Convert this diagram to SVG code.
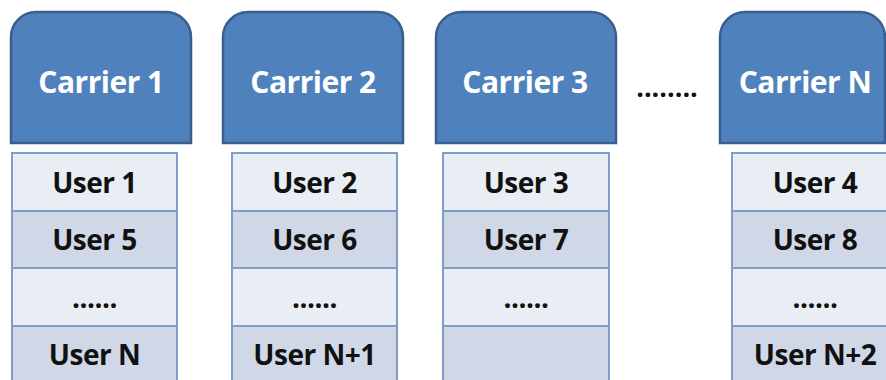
<svg xmlns="http://www.w3.org/2000/svg" width="886" height="380" viewBox="0 0 886 380">
  <style>
    .carrier { fill: #4f81bd; stroke: #3a5f8f; stroke-width: 2.5; }
    .carrier-label { font-family: "Open Sans", "Liberation Sans", Arial, sans-serif; font-weight: bold; font-size: 30px; fill: #ffffff; text-anchor: middle; letter-spacing: -0.5px; }
    .row-light { fill: #e9edf4; stroke: #7f9dcb; stroke-width: 2; }
    .row-dark { fill: #d0d8e8; stroke: #7f9dcb; stroke-width: 2; }
    .user-label { font-family: "Open Sans", "Liberation Sans", Arial, sans-serif; font-weight: bold; font-size: 28px; fill: #111111; text-anchor: middle; letter-spacing: -0.5px; }
    .ellipsis { font-family: "Open Sans", "Liberation Sans", Arial, sans-serif; font-weight: bold; font-size: 27px; fill: #111111; text-anchor: middle; }
  </style>
  <defs>
    <!-- carrier header: rounded top, square bottom, 180 x 131 -->
    <path id="carrier-shape" d="M0,131 V25 A25,25 0 0 1 25,0 H155 A25,25 0 0 1 180,25 V131 Z"/>
  </defs>

  <rect width="886" height="380" fill="#ffffff"/>

  <!-- Carrier headers -->
  <g id="carrier-1" transform="translate(11,12)">
    <use href="#carrier-shape" class="carrier"/>
    <text class="carrier-label" x="90" y="81">Carrier 1</text>
  </g>
  <g id="carrier-2" transform="translate(223,12)">
    <use href="#carrier-shape" class="carrier"/>
    <text class="carrier-label" x="90" y="81">Carrier 2</text>
  </g>
  <g id="carrier-3" transform="translate(436,12)">
    <use href="#carrier-shape" class="carrier"/>
    <text class="carrier-label" x="89" y="81">Carrier 3</text>
  </g>
  <g id="carrier-gap">
    <text class="ellipsis" x="667" y="97">........</text>
  </g>
  <g id="carrier-n" transform="translate(720,12)">
    <path class="carrier" d="M0,131 V25 A25,25 0 0 1 25,0 H140 A25,25 0 0 1 165,25 V131 Z"/>
    <text class="carrier-label" x="85" y="81">Carrier N</text>
  </g>

  <!-- User slot columns -->
  <g id="users-1" transform="translate(12,153)">
    <rect class="row-light" x="0" y="0" width="165" height="58"/>
    <rect class="row-dark" x="0" y="58" width="165" height="57"/>
    <rect class="row-light" x="0" y="115" width="165" height="58"/>
    <rect class="row-dark" x="0" y="173" width="165" height="60"/>
    <text class="user-label" x="82.5" y="40">User 1</text>
    <text class="user-label" x="82.5" y="97">User 5</text>
    <text class="user-label" x="82.5" y="155">......</text>
    <text class="user-label" x="82.5" y="212">User N</text>
  </g>
  <g id="users-2" transform="translate(232,153)">
    <rect class="row-light" x="0" y="0" width="165" height="58"/>
    <rect class="row-dark" x="0" y="58" width="165" height="57"/>
    <rect class="row-light" x="0" y="115" width="165" height="58"/>
    <rect class="row-dark" x="0" y="173" width="165" height="60"/>
    <text class="user-label" x="82.5" y="40">User 2</text>
    <text class="user-label" x="82.5" y="97">User 6</text>
    <text class="user-label" x="82.5" y="155">......</text>
    <text class="user-label" x="82.5" y="212">User N+1</text>
  </g>
  <g id="users-3" transform="translate(443,153)">
    <rect class="row-light" x="0" y="0" width="166" height="58"/>
    <rect class="row-dark" x="0" y="58" width="166" height="57"/>
    <rect class="row-light" x="0" y="115" width="166" height="58"/>
    <rect class="row-dark" x="0" y="173" width="166" height="60"/>
    <text class="user-label" x="83" y="40">User 3</text>
    <text class="user-label" x="83" y="97">User 7</text>
    <text class="user-label" x="83" y="155">......</text>
  </g>
  <g id="users-n" transform="translate(732,153)">
    <rect class="row-light" x="0" y="0" width="166" height="58"/>
    <rect class="row-dark" x="0" y="58" width="166" height="57"/>
    <rect class="row-light" x="0" y="115" width="166" height="58"/>
    <rect class="row-dark" x="0" y="173" width="166" height="60"/>
    <text class="user-label" x="83" y="40">User 4</text>
    <text class="user-label" x="83" y="97">User 8</text>
    <text class="user-label" x="83" y="155">......</text>
    <text class="user-label" x="83" y="212">User N+2</text>
  </g>
</svg>
